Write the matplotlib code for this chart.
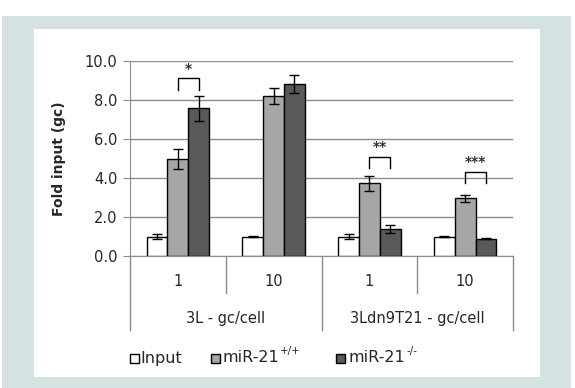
import numpy as np
import matplotlib
matplotlib.use('Agg')
import matplotlib.pyplot as plt
from matplotlib.patches import Rectangle
import matplotlib.transforms as mtransforms

plt.rcParams['font.family'] = 'DejaVu Sans'

cats = ['1', '10', '1', '10']
groups = ['3L - gc/cell', '3Ldn9T21 - gc/cell']
series = ['Input', 'miR-21', 'miR-21']
series_sup = ['', '+/+', '-/-']
vals_input = [1.0, 1.0, 1.0, 1.0]
err_input = [0.12, 0.05, 0.12, 0.03]
vals_wt = [4.97, 8.23, 3.72, 2.96]
err_wt = [0.52, 0.41, 0.38, 0.17]
vals_ko = [7.57, 8.82, 1.40, 0.89]
err_ko = [0.63, 0.44, 0.21, 0.03]
colors = ['white', '#a6a6a6', '#595959']

# significance marks: (group index, bracket top, leg bottom, label)
sig = [(0, 9.11, 8.51, '*'), (2, 5.09, 4.49, '**'), (3, 4.32, 3.72, '***')]

W, H = 575, 388
fig = plt.figure(figsize=(W / 100, H / 100), dpi=100)
fig.patches.append(Rectangle((2/W, 0), 569/W, 372/H, transform=fig.transFigure,
                             facecolor='#d4e2e2', edgecolor='none', zorder=-10))
fig.patches.append(Rectangle((34/W, 11/H), 506/W, 348/H, transform=fig.transFigure,
                             facecolor='white', edgecolor='none', zorder=-9))

ax = fig.add_axes([130/W, 1 - 256/H, 383/W, 195/H])
ax.set_facecolor('none')

x = np.arange(1, len(cats) + 1)
w = 0.218
data = [(vals_input, err_input), (vals_wt, err_wt), (vals_ko, err_ko)]
for i, (v, e) in enumerate(data):
    ax.bar(x + (i - 1) * w, v, w, color=colors[i], edgecolor='black', linewidth=1,
           yerr=e, capsize=3.5, error_kw=dict(elinewidth=1, capthick=1, ecolor='black'),
           zorder=3)

for g, top, bot, lab in sig:
    x0 = x[g]
    x1 = x[g] + w
    ax.plot([x0, x0, x1, x1], [bot, top, top, bot], color='black', lw=1, zorder=4)
    ax.text((x0 + x1) / 2, top + 0.5, lab, ha='center', va='center', fontsize=10,
            fontweight='bold', color='#333333', zorder=4)

ax.set_xlim(0.5, 4.5)
ax.set_ylim(0, 10)
ax.set_yticks(np.arange(0, 10.1, 2))
ax.set_yticklabels(['%.1f' % t for t in np.arange(0, 10.1, 2)], fontsize=10.5, color='#262626')
ax.yaxis.grid(True, color='#8c8c8c', lw=1, zorder=0)
ax.set_axisbelow(True)
ax.tick_params(axis='y', length=5, color='#8c8c8c', pad=4)
ax.set_xticks([])
for s in ['top', 'right']:
    ax.spines[s].set_visible(False)
ax.spines['left'].set_color('#8c8c8c')
ax.spines['bottom'].set_color('#8c8c8c')
fig.text(59/W, 1 - 159/H, 'Fold input (gc)', rotation=90, ha='center', va='center',
         fontsize=10, fontweight='bold', color='#262626')

# multi-level category axis
trans = mtransforms.blended_transform_factory(ax.transData, ax.transAxes)
for b in [0.5, 1.5, 2.5, 3.5, 4.5]:
    ylow = -74/195 if b in (0.5, 2.5, 4.5) else -37/195
    ax.plot([b, b], [0, ylow], transform=trans, color='#8c8c8c', lw=1, clip_on=False)
for xi, c in zip(x, cats):
    ax.text(xi, -26/195, c, transform=trans, ha='center', va='center', fontsize=10.5,
            color='#262626')
for gi, gname in enumerate(groups):
    ax.text(1.5 + 2 * gi, -62/195, gname, transform=trans, ha='center', va='center',
            fontsize=10.5, color='#262626')

# legend drawn by hand to follow the reference spacing
box_x = [130, 211, 336]
text_x = [140, 222, 349]
ly = 358
for i in range(3):
    fig.patches.append(Rectangle((box_x[i]/W, 1 - (ly + 4.5)/H), 9/W, 9/H,
                                 transform=fig.transFigure, facecolor=colors[i],
                                 edgecolor='black', linewidth=1))
    t = fig.text(text_x[i]/W, 1 - ly/H, series[i], ha='left', va='center',
                 fontsize=11.5, color='#262626')
    if series_sup[i]:
        fig.canvas.draw()
        bb = t.get_window_extent()
        fig.text(bb.x1/W + 1/W, 1 - (ly - 7)/H, series_sup[i], ha='left', va='center',
                 fontsize=7.5, color='#262626')

fig.savefig('out.png', dpi=100)
